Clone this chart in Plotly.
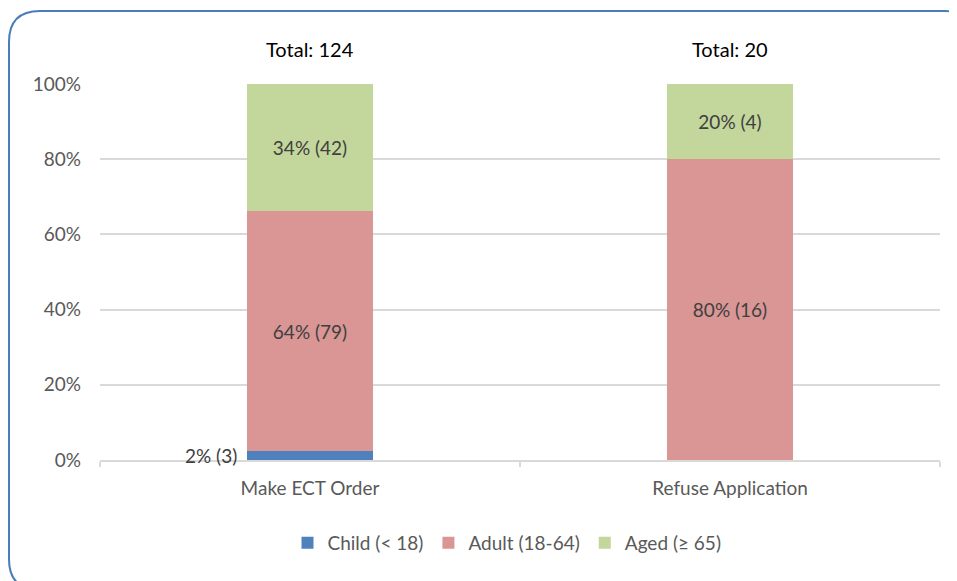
import plotly.graph_objects as go

# ---------------- Data ----------------

categories = ["Make ECT Order", "Refuse Application"]

child_counts = [3, 0]
adult_counts = [79, 16]
aged_counts = [42, 4]

series_names = ["Child (< 18)", "Adult (18-64)", "Aged (\u2265 65)"]
series_colors = ["#4F81BD", "#D99694", "#C3D69B"]

# ---------------- Layout geometry (pixels) ----------------
# page body has an 8px margin, so the figure is 8px smaller
# and every screen coordinate below is shifted by -8

OFF = 8
W, H = 957 - OFF, 581 - OFF
ML, MR, MT, MB = 100 - OFF, 17, 84 - OFF, 121
PW = W - ML - MR
PH = H - MT - MB


def px_x(x):
    return (x - OFF - ML) / PW


def px_y(y):
    return 1 - (y - OFF - MT) / PH


totals = [c + a + g for c, a, g in zip(child_counts, adult_counts, aged_counts)]


def pct(values):
    return [v / t * 100 for v, t in zip(values, totals)]


def labels(values):
    return [f"{round(v / t * 100)}% ({v})" if v else "" for v, t in zip(values, totals)]


FONT = "Lato, Calibri, sans-serif"
GREY = "#595959"
LABEL = "#404040"

fig = go.Figure()

all_counts = [child_counts, adult_counts, aged_counts]

for name, color, counts in zip(series_names, series_colors, all_counts):
    is_child = counts is child_counts
    fig.add_trace(
        go.Bar(
            name=name,
            x=categories,
            y=pct(counts),
            marker=dict(color=color, line=dict(width=0)),
            text=None if is_child else labels(counts),
            textposition="inside",
            insidetextanchor="middle",
            textangle=0,
            textfont=dict(color=LABEL, size=19, family=FONT),
            hoverinfo="skip",
        )
    )

# small child label sits to the left of the bar
for cat, n, p in zip(categories, child_counts, pct(child_counts)):
    if n:
        fig.add_annotation(
            x=cat, y=p / 2, xref="x", yref="y",
            text=f"{round(p)}% ({n})",
            showarrow=False, xanchor="right", yanchor="middle",
            xshift=-71,
            font=dict(color=LABEL, size=19, family=FONT),
        )

# totals above the bars
for cat, t in zip(categories, totals):
    fig.add_annotation(
        x=cat, y=px_y(49), xref="x", yref="paper",
        text=f"Total: {t}",
        showarrow=False, yanchor="middle",
        font=dict(color="#000000", size=20, family=FONT),
    )

# rounded border
x0, y0, x1, y1, r = px_x(9), px_y(11), px_x(976), px_y(590), 31
rx, ry = r / PW, r / PH
path = (
    f"M {x0 + rx},{y0} L {x1 - rx},{y0} Q {x1},{y0} {x1},{y0 - ry} "
    f"L {x1},{y1 + ry} Q {x1},{y1} {x1 - rx},{y1} "
    f"L {x0 + rx},{y1} Q {x0},{y1} {x0},{y1 + ry} "
    f"L {x0},{y0 - ry} Q {x0},{y0} {x0 + rx},{y0} Z"
)
fig.add_shape(
    type="path", path=path, xref="paper", yref="paper",
    line=dict(color="#4A7EBB", width=2), layer="above",
)

fig.update_layout(
    width=W,
    height=H,
    barmode="stack",
    bargap=0.698,
    paper_bgcolor="white",
    plot_bgcolor="white",
    font=dict(family=FONT, color=GREY, size=19),
    margin=dict(l=ML, r=MR, t=MT, b=MB, pad=0),
    showlegend=True,
    legend=dict(
        orientation="h",
        x=px_x(507), xanchor="center",
        y=px_y(543), yanchor="middle",
        font=dict(size=19, color=GREY, family=FONT),
        traceorder="normal",
        itemwidth=30,
    ),
    uniformtext=dict(mode="show", minsize=10),
)

fig.update_xaxes(
    showline=True,
    linecolor="#D9D9D9",
    linewidth=2,
    ticks="outside",
    tickson="boundaries",
    ticklen=5,
    tickwidth=2,
    tickcolor="#D9D9D9",
    showgrid=False,
    ticklabelstandoff=10,
    tickfont=dict(size=19, color=GREY, family=FONT),
)

fig.update_yaxes(
    range=[0, 100],
    dtick=20,
    ticksuffix="%",
    showgrid=True,
    gridcolor="#D9D9D9",
    gridwidth=2,
    zeroline=False,
    showline=False,
    ticks="",
    ticklabelstandoff=18,
    tickfont=dict(size=19, color=GREY, family=FONT),
)

fig.write_html("out.html")
